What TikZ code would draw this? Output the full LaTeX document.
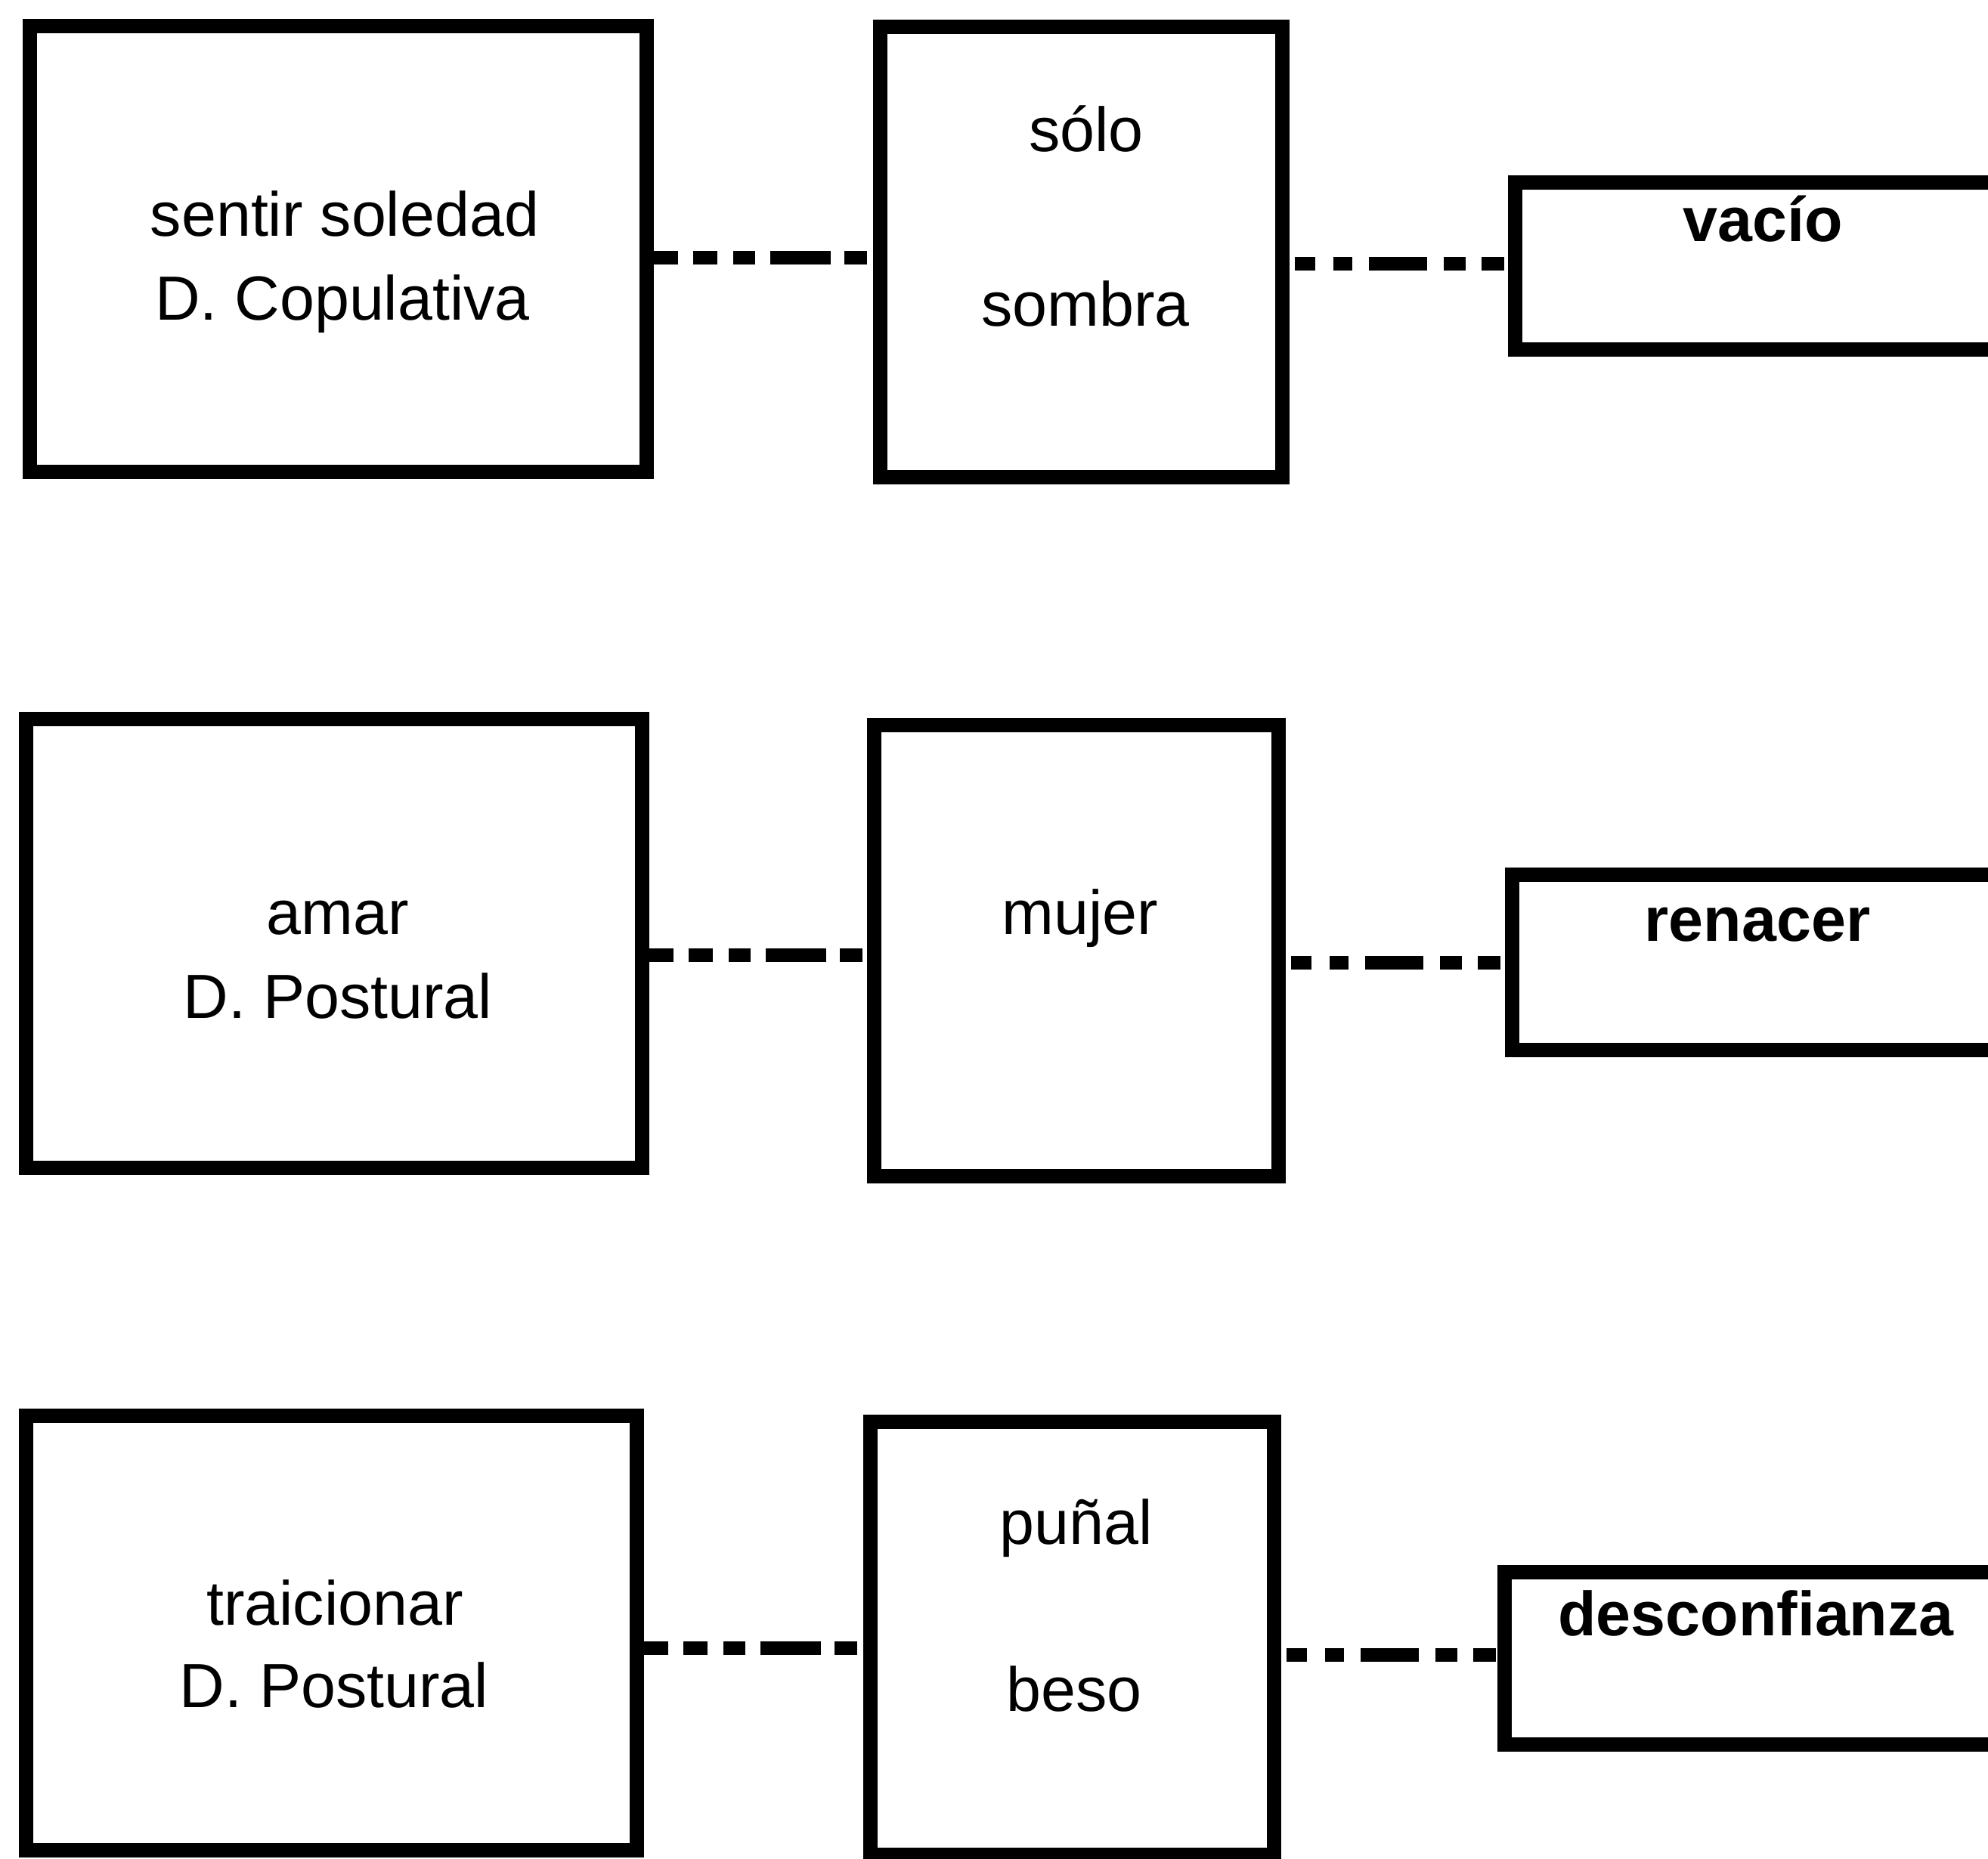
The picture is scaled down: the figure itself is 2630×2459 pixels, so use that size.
\documentclass[tikz,border=0pt]{standalone}
\usepackage{fontspec}
\setmainfont{Liberation Sans}
\begin{document}
\begin{tikzpicture}[x=0.1mm,y=-0.1mm,
  box/.style={draw=black,line width=1.9mm,rectangle,inner sep=0pt},
  lbl/.style={anchor=base,inner sep=0pt,font=\fontsize{23.5pt}{28pt}\selectfont},
  blbl/.style={lbl,font=\fontsize{23.5pt}{28pt}\selectfont\bfseries},
  abdash/.style={line width=1.75mm,line cap=butt,
    dash pattern=on 3.2mm off 2mm on 3.2mm off 2.1mm on 2.9mm off 2mm on 8mm off 1.8mm on 3mm off 5mm},
  bcdash/.style={line width=1.75mm,line cap=butt,
    dash pattern=on 2.7mm off 2.4mm on 2.5mm off 2.2mm on 7.7mm off 2.2mm on 2.9mm off 2.1mm on 3mm off 1.5mm,
    dash phase=28.5mm}]
\useasboundingbox (0,0) rectangle (2630,2459);
\clip (0,0) rectangle (2630,2459);

% row 1
\node[box,minimum width=81.6mm,minimum height=59.0mm] (a1) at (447,329) {};
\node[box,minimum width=53.2mm,minimum height=59.6mm] (b1) at (1430,333) {};
\node[box,minimum width=69.5mm,minimum height=22.1mm] (c1) at (2352,352) {};
\node[lbl] (a1t1) at (456,312) {sentir soledad};
\node[lbl] (a1t2) at (453,423) {D. Copulativa};
\node[lbl] (b1t1) at (1437,200) {sólo};
\node[lbl] (b1t2) at (1436,431) {sombra};
\node[blbl] (c1t) at (2332,319) {vacío};
\coordinate (r1) at (0,341);
\coordinate (s1) at (0,349);
\draw[abdash] (a1.east |- r1) -- (b1.west |- r1);
\draw[bcdash] (b1.east |- s1) -- (c1.west |- s1);

% row 2
\node[box,minimum width=81.5mm,minimum height=59.4mm] (a2) at (442,1248) {};
\node[box,minimum width=53.5mm,minimum height=59.7mm] (b2) at (1424,1258) {};
\node[box,minimum width=69.9mm,minimum height=23.2mm] (c2) at (2350,1273) {};
\node[lbl] (a2t1) at (447,1236) {amar};
\node[lbl] (a2t2) at (447,1347) {D. Postural};
\node[lbl] (b2t) at (1429,1236) {mujer};
\node[blbl] (c2t) at (2325,1245) {renacer};
\coordinate (r2) at (0,1264);
\coordinate (s2) at (0,1274);
\draw[abdash] (a2.east |- r2) -- (b2.west |- r2);
\draw[bcdash] (b2.east |- s2) -- (c2.west |- s2);

% row 3
\node[box,minimum width=80.8mm,minimum height=57.5mm] (a3) at (438,2161) {};
\node[box,minimum width=53.4mm,minimum height=57.3mm] (b3) at (1418,2168) {};
\node[box,minimum width=70.9mm,minimum height=22.8mm] (c3) at (2345,2194) {};
\node[lbl] (a3t1) at (443,2150) {traicionar};
\node[lbl] (a3t2) at (442,2259) {D. Postural};
\node[lbl] (b3t1) at (1424,2043) {puñal};
\node[lbl] (b3t2) at (1421,2264) {beso};
\node[blbl] (c3t) at (2323,2164) {desconfianza};
\coordinate (r3) at (0,2181);
\coordinate (s3) at (0,2190);
\draw[abdash] (a3.east |- r3) -- (b3.west |- r3);
\draw[bcdash] (b3.east |- s3) -- (c3.west |- s3);
\end{tikzpicture}
\end{document}
